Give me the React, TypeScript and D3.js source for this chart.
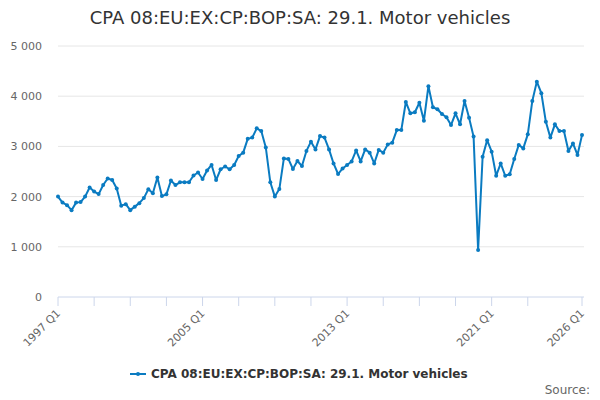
import React from "react";
import * as d3 from "d3";

const title = "CPA 08:EU:EX:CP:BOP:SA: 29.1. Motor vehicles";
const seriesName = "CPA 08:EU:EX:CP:BOP:SA: 29.1. Motor vehicles";
const startYear = 1997;
const endYear = 2026;

const values: number[] = [
  2000, 1880, 1830, 1730, 1880, 1890, 2000, 2180,
  2100, 2050, 2230, 2360, 2330, 2160, 1820, 1850,
  1730, 1800, 1870, 1970, 2145, 2065, 2380, 2010,
  2045, 2320, 2230, 2285, 2285, 2285, 2420, 2480,
  2350, 2520, 2630, 2330, 2545, 2600, 2545, 2630,
  2810, 2875, 3150, 3175, 3360, 3305, 2980, 2285,
  2000, 2150, 2760, 2750, 2550, 2710, 2610, 2910,
  3095, 2940, 3205, 3175, 2940, 2660, 2450, 2560,
  2630, 2700, 2920, 2700, 2940, 2875, 2660, 2930,
  2875, 3040, 3075, 3325, 3325, 3885, 3660, 3680,
  3870, 3510, 4200, 3780, 3740, 3645, 3580, 3425,
  3660, 3440, 3905, 3570, 3195, 935, 2795, 3125,
  2895, 2415, 2660, 2415, 2445, 2750, 3030, 2960,
  3240, 3905, 4290, 4060, 3490, 3175, 3440, 3305,
  3305, 2910, 3060, 2830, 3225,
];

const categories: string[] = values.map(
  (_, i) => `${startYear + Math.floor(i / 4)} Q${(i % 4) + 1}`
);

const yTicks = [0, 1000, 2000, 3000, 4000, 5000];
const xLabelCats = ["1997 Q1", "2005 Q1", "2013 Q1", "2021 Q1", "2026 Q1"];
const xTickCats = [
  "1997 Q1", "1999 Q1", "2001 Q1", "2003 Q1", "2005 Q1", "2007 Q1", "2009 Q1",
  "2011 Q1", "2013 Q1", "2015 Q1", "2017 Q1", "2019 Q1", "2021 Q1", "2023 Q1", "2026 Q1",
];

const W = 600;
const H = 400;
const plotLeft = 58;
const plotRight = 582;
const plotTop = 46;
const plotBottom = 297;
const color = "#0a7bc1";
const font = "'DejaVu Sans', sans-serif";

export default function App() {
  const x = d3
    .scaleLinear()
    .domain([0, values.length - 1])
    .range([plotLeft, plotRight]);
  const y = d3.scaleLinear().domain([0, 5000]).range([plotBottom, plotTop]);
  const idx = (c: string) => categories.indexOf(c);
  const line = d3
    .line<number>()
    .x((_, i) => x(i))
    .y((d) => y(d));
  const fmt = (v: number) => d3.format(",")(v).replace(/,/g, " ");

  return (
    <svg
      width={W}
      height={H}
      style={{ position: "absolute", left: 0, top: 0, fontFamily: font, background: "#fff" }}
    >
      <text x={W / 2} y={24} textAnchor="middle" fontSize={18} fill="#333">
        {title}
      </text>
      {yTicks.map((t) => (
        <g key={t}>
          {t !== 0 && (
            <line x1={plotLeft} x2={plotRight + 2} y1={y(t)} y2={y(t)} stroke="#e6e6e6" strokeWidth={1} />
          )}
          <text x={42} y={y(t) + 4} textAnchor="end" fontSize={11} fill="#666">
            {fmt(t)}
          </text>
        </g>
      ))}
      <line x1={plotLeft} x2={plotRight + 2} y1={plotBottom} y2={plotBottom} stroke="#ccd6eb" strokeWidth={1} />
      {xTickCats.map((c) => (
        <line key={c} x1={x(idx(c))} x2={x(idx(c))} y1={plotBottom} y2={plotBottom + 9} stroke="#ccd6eb" strokeWidth={1} />
      ))}
      {xLabelCats.map((c) => (
        <text
          key={c}
          transform={`translate(${x(idx(c)) + 3},${plotBottom + 17}) rotate(-45)`}
          textAnchor="end"
          fontSize={11}
          fill="#666"
        >
          {c}
        </text>
      ))}
      <path d={line(values) || ""} fill="none" stroke={color} strokeWidth={2} strokeLinejoin="round" />
      {values.map((v, i) => (
        <circle key={i} cx={x(i)} cy={y(v)} r={2} fill={color} />
      ))}
      <g>
        <line x1={130} x2={146} y1={374} y2={374} stroke={color} strokeWidth={2} />
        <circle cx={138} cy={374} r={2} fill={color} />
        <text x={151} y={378} fontSize={12} fontWeight="bold" fill="#333">
          {seriesName}
        </text>
      </g>
      <text x={590} y={394} textAnchor="end" fontSize={12} fill="#666">
        Source:
      </text>
    </svg>
  );
}
